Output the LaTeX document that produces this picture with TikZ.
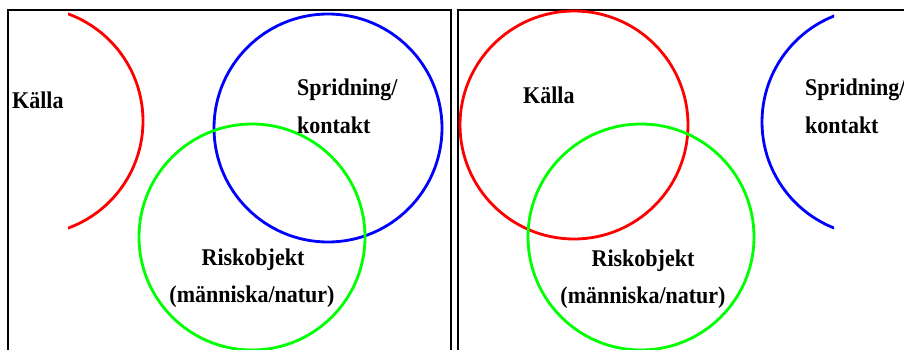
\documentclass[tikz,border=0pt]{standalone}
\usepackage{fontspec}
\setmainfont{Liberation Serif}
\newcommand{\tallt}[1]{\scalebox{1}[1.09]{#1}}
\begin{document}
\begin{tikzpicture}[x=1pt,y=-1pt,
  frame/.style={draw=black,line width=1.6pt},
  ring/.style={line width=2.8pt},
  lbl/.style={font=\fontsize{22}{22}\selectfont\bfseries,inner sep=0pt}]
\clip (0,0) rectangle (904,350);
\fill[white] (0,0) rectangle (904,350);
% frames
\draw[frame] (8,10) rectangle (451,370);
\draw[frame] (458,10) rectangle (930,370);
% left panel
\begin{scope}
  \clip (68,0) rectangle (451,350);
  \draw[ring,red] (29,121) circle[radius=114];
\end{scope}
\draw[ring,blue] (328,128) circle[radius=114];
\draw[ring,green] (252,237) circle[radius=113];
\node[lbl,anchor=base west] (kallaL) at (12,109) {\tallt{Källa}};
\node[lbl,anchor=base west] (sprL) at (297,96) {\tallt{Spridning/}};
\node[lbl,anchor=base west] (konL) at (297,133) {\tallt{kontakt}};
\node[lbl,anchor=base] (riskL) at (253,265) {\tallt{Riskobjekt}};
\node[lbl,anchor=base] (manL) at (252,302) {\tallt{(människa/natur)}};
% right panel
\draw[ring,red] (574,125) circle[radius=114];
\draw[ring,green] (641,237) circle[radius=113];
\begin{scope}
  \clip (458,0) rectangle (834,350);
  \draw[ring,blue] (876,122) circle[radius=114];
\end{scope}
\node[lbl,anchor=base west] (kallaR) at (523,103) {\tallt{Källa}};
\node[lbl,anchor=base west] (sprR) at (805,96) {\tallt{Spridning/}};
\node[lbl,anchor=base west] (konR) at (805,133) {\tallt{kontakt}};
\node[lbl,anchor=base] (riskR) at (643,266) {\tallt{Riskobjekt}};
\node[lbl,anchor=base] (manR) at (643,303) {\tallt{(människa/natur)}};
\end{tikzpicture}
\end{document}
